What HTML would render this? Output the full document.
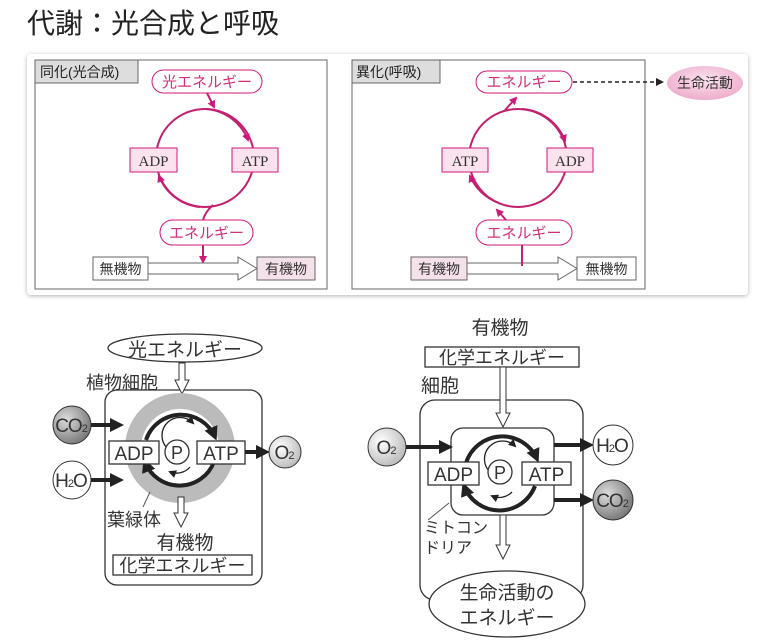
<!DOCTYPE html>
<html><head><meta charset="utf-8"><style>
html,body{margin:0;padding:0;background:#fff;}
svg{display:block;}
text{font-family:"Liberation Sans","Noto Sans CJK JP",sans-serif;}
.m{fill:#d0307a;font-size:15px;}
.s{font-family:"Liberation Serif","Noto Serif CJK SC",serif;}
</style></head><body>
<svg width="768" height="642" viewBox="0 0 768 642" xmlns="http://www.w3.org/2000/svg">
<defs>
<marker id="ma" markerWidth="8" markerHeight="8" refX="6" refY="4" orient="auto" markerUnits="userSpaceOnUse"><path d="M0,0 L8,4 L0,8 z" fill="#d0187a"/></marker>
<marker id="ka" markerWidth="8" markerHeight="8" refX="6" refY="4" orient="auto" markerUnits="userSpaceOnUse"><path d="M0,0 L8,4 L0,8 z" fill="#222"/></marker>
<marker id="kb" markerWidth="14" markerHeight="14" refX="10" refY="7" orient="auto" markerUnits="userSpaceOnUse"><path d="M0,0 L14,7 L0,14 z" fill="#222"/></marker>
<marker id="kt" markerWidth="8" markerHeight="8" refX="6" refY="4" orient="auto" markerUnits="userSpaceOnUse"><path d="M0,0 L8,4 L0,8 z" fill="#222"/></marker>
<radialGradient id="gd" cx="0.35" cy="0.35" r="0.7"><stop offset="0" stop-color="#ddd"/><stop offset="1" stop-color="#777"/></radialGradient>
<radialGradient id="gl" cx="0.35" cy="0.35" r="0.7"><stop offset="0" stop-color="#fff"/><stop offset="1" stop-color="#bbb"/></radialGradient>
<radialGradient id="gp" cx="0.5" cy="0.4" r="0.6"><stop offset="0" stop-color="#fbe3ef"/><stop offset="1" stop-color="#eeaccc"/></radialGradient>
<filter id="sh" x="-5%" y="-5%" width="110%" height="115%"><feDropShadow dx="0" dy="1" stdDeviation="2" flood-color="#000" flood-opacity="0.3"/></filter>
</defs>

<text x="27" y="33" font-size="28" fill="#222">代謝：光合成と呼吸</text>

<rect x="27" y="54" width="721" height="241" rx="4" fill="#fff" filter="url(#sh)"/>

<!-- left top panel -->
<rect x="35" y="60" width="292" height="229" fill="#fff" stroke="#666" stroke-width="1"/>
<rect x="35" y="60" width="103" height="23" fill="#ddd" stroke="#666"/>
<text x="40" y="77" font-size="14" fill="#222">同化(光合成)</text>
<rect x="152" y="70" width="110" height="23" rx="11.5" fill="#fff" stroke="#d0187a"/>
<text x="207" y="87" class="m" text-anchor="middle">光エネルギー</text>
<circle cx="205" cy="158" r="49" fill="none" stroke="#c4206f" stroke-width="2"/>
<path d="M206,109 A49,49 0 0 1 248,140" fill="none" stroke="#c4206f" stroke-width="2" marker-end="url(#ma)"/>
<path d="M200,207 A49,49 0 0 1 159,176" fill="none" stroke="#c4206f" stroke-width="2" marker-end="url(#ma)"/>
<line x1="207" y1="93" x2="214" y2="107" stroke="#c4206f" stroke-width="2" marker-end="url(#ma)"/>
<path d="M213,205 Q205,212 203,220" fill="none" stroke="#c4206f" stroke-width="2"/>
<rect x="130" y="148" width="47" height="24" fill="#fae3ee" stroke="#d0187a"/>
<text x="153.5" y="166" font-size="15" class="s" text-anchor="middle" fill="#333">ADP</text>
<rect x="232" y="148" width="46" height="24" fill="#fae3ee" stroke="#d0187a"/>
<text x="255" y="166" font-size="15" class="s" text-anchor="middle" fill="#333">ATP</text>
<rect x="160" y="220" width="93" height="25" rx="12.5" fill="#fff" stroke="#d0187a"/>
<text x="206.5" y="238" class="m" text-anchor="middle">エネルギー</text>
<line x1="203" y1="245" x2="203" y2="262" stroke="#c4206f" stroke-width="2" marker-end="url(#ma)"/>
<rect x="93" y="257" width="55" height="23" fill="#fff" stroke="#666"/>
<text x="120.5" y="274" font-size="14" text-anchor="middle" fill="#333">無機物</text>
<path d="M148,263 H238 V257 L257,268.5 L238,280 V274 H148 Z" fill="#fff" stroke="#666"/>
<rect x="257" y="257" width="58" height="23" fill="#f5e1ea" stroke="#666"/>
<text x="286" y="274" font-size="14" text-anchor="middle" fill="#333">有機物</text>

<!-- right top panel -->
<rect x="352" y="60" width="293" height="229" fill="#fff" stroke="#666"/>
<rect x="352" y="60" width="88" height="23" fill="#ddd" stroke="#666"/>
<text x="356" y="77" font-size="14" fill="#222">異化(呼吸)</text>
<rect x="476" y="71" width="96" height="22" rx="11" fill="#fff" stroke="#d0187a"/>
<text x="524" y="87" class="m" text-anchor="middle">エネルギー</text>
<line x1="573" y1="82" x2="662" y2="82" stroke="#222" stroke-width="1.5" stroke-dasharray="4,3" marker-end="url(#ka)"/>
<ellipse cx="705" cy="83" rx="38" ry="17" fill="url(#gp)"/>
<text x="705" y="88" font-size="14" text-anchor="middle" fill="#333">生命活動</text>
<circle cx="518" cy="158" r="49" fill="none" stroke="#c4206f" stroke-width="2"/>
<path d="M522,109 A49,49 0 0 1 565,141" fill="none" stroke="#c4206f" stroke-width="2" marker-end="url(#ma)"/>
<path d="M499,203 A49,49 0 0 1 470,176" fill="none" stroke="#c4206f" stroke-width="2" marker-end="url(#ma)"/>
<line x1="505" y1="110" x2="516" y2="98" stroke="#c4206f" stroke-width="2" marker-end="url(#ma)"/>
<line x1="506" y1="220" x2="497" y2="210" stroke="#c4206f" stroke-width="2" marker-end="url(#ma)"/>
<rect x="442" y="148" width="46" height="24" fill="#fae3ee" stroke="#d0187a"/>
<text x="465" y="166" font-size="15" class="s" text-anchor="middle" fill="#333">ATP</text>
<rect x="547" y="148" width="46" height="24" fill="#fae3ee" stroke="#d0187a"/>
<text x="570" y="166" font-size="15" class="s" text-anchor="middle" fill="#333">ADP</text>
<rect x="476" y="220" width="96" height="25" rx="12.5" fill="#fff" stroke="#d0187a"/>
<text x="524" y="238" class="m" text-anchor="middle">エネルギー</text>
<rect x="411" y="257" width="56" height="23" fill="#f5e1ea" stroke="#666"/>
<text x="439" y="274" font-size="14" text-anchor="middle" fill="#333">有機物</text>
<path d="M467,263 H558 V257 L577,268.5 L558,280 V274 H467 Z" fill="#fff" stroke="#666"/>
<line x1="522" y1="245" x2="522" y2="266" stroke="#c4206f" stroke-width="2"/>
<rect x="577" y="257" width="59" height="23" fill="#fff" stroke="#666"/>
<text x="606.5" y="274" font-size="14" text-anchor="middle" fill="#333">無機物</text>

<!-- bottom left -->
<ellipse cx="185" cy="348" rx="77" ry="14" fill="#fff" stroke="#333" stroke-width="1.3"/>
<text x="185" y="356" font-size="19" text-anchor="middle" fill="#333">光エネルギー</text>
<text x="86" y="389" font-size="18" fill="#333">植物細胞</text>
<rect x="105" y="390" width="157" height="195" rx="12" fill="#fff" stroke="#333" stroke-width="1.3"/>
<path d="M179,363 V380 H175 L182,394 L189,380 H185 V363 Z" fill="#fff" stroke="#333"/>
<circle cx="180" cy="448" r="47" fill="none" stroke="#bbb" stroke-width="16"/>
<path d="M146,440 A37,37 0 0 1 215,437" fill="none" stroke="#222" stroke-width="4" marker-end="url(#kb)"/>
<path d="M214,462 A37,37 0 0 1 145,462" fill="none" stroke="#222" stroke-width="4" marker-end="url(#kb)"/>
<path d="M167,448 A18,18 0 0 1 193,423" fill="none" stroke="#222" stroke-width="1.3" marker-end="url(#kt)"/>
<path d="M190,467 A18,18 0 0 1 170,472" fill="none" stroke="#222" stroke-width="1.3" marker-end="url(#kt)"/>
<rect x="109" y="441" width="50" height="23" fill="#fff" stroke="#333" stroke-width="1.3"/>
<text x="134" y="460" font-size="19" text-anchor="middle" fill="#333">ADP</text>
<circle cx="177" cy="452" r="12" fill="#fff" stroke="#333" stroke-width="1.3"/>
<text x="177" y="459" font-size="18" text-anchor="middle" fill="#333">P</text>
<rect x="197" y="441" width="48" height="23" fill="#fff" stroke="#333" stroke-width="1.3"/>
<text x="221" y="460" font-size="19" text-anchor="middle" fill="#333">ATP</text>
<line x1="245" y1="452" x2="266" y2="452" stroke="#222" stroke-width="4" marker-end="url(#kb)"/>
<circle cx="285" cy="452" r="16" fill="url(#gl)" stroke="#333"/>
<text x="284" y="459" font-size="19" text-anchor="middle" fill="#333" letter-spacing="-1">O<tspan font-size="11">2</tspan></text>
<circle cx="72" cy="425" r="19" fill="url(#gd)" stroke="#333"/>
<text x="71" y="432" font-size="19" text-anchor="middle" fill="#333" letter-spacing="-1">CO<tspan font-size="11">2</tspan></text>
<line x1="91" y1="425" x2="120" y2="425" stroke="#222" stroke-width="4" marker-end="url(#kb)"/>
<circle cx="72" cy="480" r="19" fill="#fff" stroke="#333"/>
<text x="71" y="487" font-size="19" text-anchor="middle" fill="#333" letter-spacing="-1">H<tspan font-size="11">2</tspan>O</text>
<line x1="91" y1="480" x2="120" y2="480" stroke="#222" stroke-width="4" marker-end="url(#kb)"/>
<line x1="143" y1="507" x2="150" y2="492" stroke="#555"/>
<text x="107" y="526" font-size="18" fill="#333">葉緑体</text>
<path d="M178,497 V513 H174 L181,527 L188,513 H184 V497 Z" fill="#fff" stroke="#333"/>
<text x="185" y="549" font-size="19" text-anchor="middle" fill="#333">有機物</text>
<rect x="113" y="555" width="139" height="20" fill="#fff" stroke="#333" stroke-width="1.3"/>
<text x="182.5" y="572" font-size="18" text-anchor="middle" fill="#333">化学エネルギー</text>

<!-- bottom right -->
<text x="500" y="334" font-size="19" text-anchor="middle" fill="#333">有機物</text>
<rect x="425" y="347" width="154" height="20" fill="#fff" stroke="#333" stroke-width="1.3"/>
<text x="502" y="364" font-size="18" text-anchor="middle" fill="#333">化学エネルギー</text>
<text x="421" y="392" font-size="19" fill="#333">細胞</text>
<rect x="420" y="400" width="163" height="200" rx="15" fill="#fff" stroke="#333" stroke-width="1.3"/>
<path d="M500,367 V413 H496 L503,427 L510,413 H506 V367 Z" fill="#fff" stroke="#333"/>
<rect x="451" y="428" width="103" height="87" rx="12" fill="#fff" stroke="#333" stroke-width="1.3"/>
<path d="M466,463 A38,38 0 0 1 537,459" fill="none" stroke="#222" stroke-width="4" marker-end="url(#kb)"/>
<path d="M535,486 A38,38 0 0 1 464,486" fill="none" stroke="#222" stroke-width="4" marker-end="url(#kb)"/>
<path d="M490,472 A18,18 0 0 1 515,446" fill="none" stroke="#222" stroke-width="1.3" marker-end="url(#kt)"/>
<path d="M512,492 A18,18 0 0 1 492,496" fill="none" stroke="#222" stroke-width="1.3" marker-end="url(#kt)"/>
<rect x="428" y="462" width="51" height="23" fill="#fff" stroke="#333" stroke-width="1.3"/>
<text x="453.5" y="481" font-size="19" text-anchor="middle" fill="#333">ADP</text>
<circle cx="500" cy="472" r="12" fill="#fff" stroke="#333" stroke-width="1.3"/>
<text x="500" y="479" font-size="18" text-anchor="middle" fill="#333">P</text>
<rect x="522" y="462" width="49" height="23" fill="#fff" stroke="#333" stroke-width="1.3"/>
<text x="546.5" y="481" font-size="19" text-anchor="middle" fill="#333">ATP</text>
<circle cx="387" cy="447" r="19" fill="url(#gl)" stroke="#333"/>
<text x="386" y="454" font-size="19" text-anchor="middle" fill="#333" letter-spacing="-1">O<tspan font-size="11">2</tspan></text>
<line x1="406" y1="447" x2="449" y2="447" stroke="#222" stroke-width="4" marker-end="url(#kb)"/>
<line x1="554" y1="445" x2="590" y2="445" stroke="#222" stroke-width="4" marker-end="url(#kb)"/>
<circle cx="613" cy="445" r="20" fill="#fff" stroke="#333"/>
<text x="612" y="452" font-size="19" text-anchor="middle" fill="#333" letter-spacing="-1">H<tspan font-size="11">2</tspan>O</text>
<line x1="554" y1="500" x2="590" y2="500" stroke="#222" stroke-width="4" marker-end="url(#kb)"/>
<circle cx="613" cy="500" r="20" fill="url(#gd)" stroke="#333"/>
<text x="612" y="507" font-size="19" text-anchor="middle" fill="#333" letter-spacing="-1">CO<tspan font-size="11">2</tspan></text>
<line x1="428" y1="520" x2="449" y2="503" stroke="#555"/>
<text x="424" y="533" font-size="16" fill="#333">ミトコン</text>
<text x="424" y="553" font-size="16" fill="#333">ドリア</text>
<path d="M500,515 V545 H496 L503,559 L510,545 H506 V515 Z" fill="#fff" stroke="#333"/>
<ellipse cx="507" cy="604" rx="78" ry="33" fill="#fff" stroke="#333" stroke-width="1.3"/>
<text x="507" y="599" font-size="19" text-anchor="middle" fill="#333">生命活動の</text>
<text x="507" y="624" font-size="19" text-anchor="middle" fill="#333">エネルギー</text>
</svg>
</body></html>
